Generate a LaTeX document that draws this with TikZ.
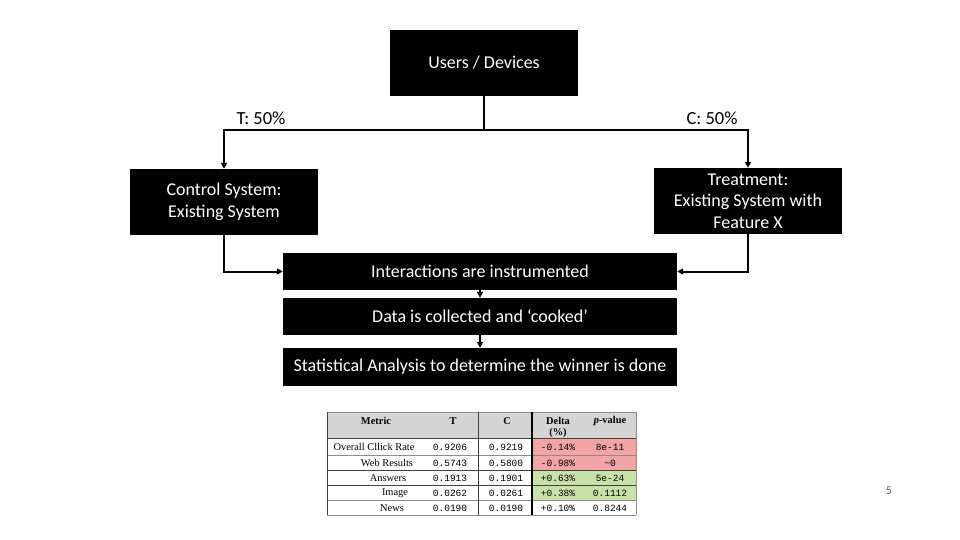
\documentclass[tikz,border=0pt]{standalone}
\usepackage{fontspec}
\setmainfont{Carlito}
\newfontfamily\tabserif{Liberation Serif}
\newfontfamily\tabmono{Liberation Mono}
\usetikzlibrary{arrows.meta}
\definecolor{hdrgray}{HTML}{D4D4D4}
\definecolor{cellred}{HTML}{F3A5A5}
\definecolor{cellgreen}{HTML}{C7E1A6}
\tikzset{
  blk/.style={fill=black, text=white, draw=none, inner sep=2pt, align=center,
    font=\fontsize{18}{22}\selectfont},
  conn/.style={line width=2pt, -{Triangle[length=6pt,width=6pt]}},
  plain/.style={line width=2pt},
  lbl/.style={font=\fontsize{18.5}{22}\selectfont},
  tlab/.style={font=\tabserif\fontsize{10.4}{11}\selectfont, inner sep=0pt},
  thdr/.style={font=\tabserif\bfseries\fontsize{10.4}{11}\selectfont, inner sep=0pt},
  tnum/.style={font=\tabmono\fontsize{9.5}{11}\selectfont, inner sep=0pt},
  tline/.style={line width=0.8pt, draw=black!75},
  tthin/.style={line width=0.4pt, draw=black!45},
}
\begin{document}
\begin{tikzpicture}[x=1pt,y=-1pt]
\useasboundingbox[fill=white] (0,0) rectangle (960,540);

% boxes
\node[blk, minimum width=188pt, minimum height=66pt] (users) at (484,63) {Users / Devices};
\node[blk, minimum width=188pt, minimum height=66pt] (control) at (224,202) {Control System:\\Existing System};
\node[blk, minimum width=188pt, minimum height=66pt, font=\fontsize{18}{21.5}\selectfont] (treat) at (748,201) {Treatment:\\Existing System with\\Feature X};
\node[blk, minimum width=394pt, minimum height=37pt] (inter) at (480,271.5) {Interactions are instrumented};
\node[blk, minimum width=394pt, minimum height=37pt] (data) at (480,316.5) {Data is collected and ‘cooked’};
\node[blk, minimum width=394pt, minimum height=38pt] (stat) at (480,367) {Statistical Analysis to determine the winner is done};

% labels
\node[lbl] (tlbl) at (261,118) {T: 50\%};
\node[lbl] (clbl) at (712,118) {C: 50\%};

% connectors
\coordinate (split) at (484,130);
\coordinate (lt) at (224,130);
\coordinate (rt) at (748,130);
\draw[plain] (users.south) -- (split);
\draw[conn] (split) -- (lt) -- (control.north);
\draw[conn] (split) -- (rt) -- (treat.north);
\draw[conn] (control.south) |- (inter.west);
\draw[conn] (treat.south) |- (inter.east);
\draw[conn] (inter.south) -- (data.north);
\draw[conn] (data.south) -- (stat.north);

% table
\fill[hdrgray] (327,412) rectangle (636,438);
\fill[cellred] (532,438) rectangle (636,470);
\fill[cellgreen] (532,470) rectangle (636,500);
\draw[tthin] (327,412) -- (636,412);
\draw[tline] (327,438) -- (636,438);
\draw[tthin] (327,455) -- (636,455);
\draw[tline] (327,470) -- (636,470);
\draw[tline] (327,485) -- (636,485);
\draw[tthin] (327,500) -- (636,500);
\draw[tthin] (327,515) -- (636,515);
\draw[tline] (327,412) -- (327,515);
\draw[tline] (478,412) -- (478,515);
\draw[line width=1.2pt] (532,412) -- (532,515);
\draw[tthin] (636,412) -- (636,515);

\node[thdr] (hm) at (376,421) {Metric};
\node[thdr] (ht) at (453,421) {T};
\node[thdr] (hc) at (507,421) {C};
\node[thdr, align=center] (hd) at (558,427) {Delta\\(\%)};
\node[thdr] (hp) at (610,421) {\textit{p}-value};

\node[tlab] (r1) at (374,447) {Overall Cllick Rate};
\node[tnum] (r1t) at (450,447) {0.9206};
\node[tnum] (r1c) at (506,447) {0.9219};
\node[tnum] (r1d) at (558,447) {-0.14\%};
\node[tnum] (r1p) at (610,447) {8e-11};

\node[tlab] (r2) at (387,463) {Web Results};
\node[tnum] (r2t) at (450,463) {0.5743};
\node[tnum] (r2c) at (506,463) {0.5800};
\node[tnum] (r2d) at (558,463) {-0.98\%};
\node[tnum] (r2p) at (610,463) {\textasciitilde 0};

\node[tlab] (r3) at (388,478) {Answers};
\node[tnum] (r3t) at (450,478) {0.1913};
\node[tnum] (r3c) at (506,478) {0.1901};
\node[tnum] (r3d) at (558,478) {+0.63\%};
\node[tnum] (r3p) at (610,478) {5e-24};

\node[tlab] (r4) at (395,493) {Image};
\node[tnum] (r4t) at (450,493) {0.0262};
\node[tnum] (r4c) at (506,493) {0.0261};
\node[tnum] (r4d) at (558,493) {+0.38\%};
\node[tnum] (r4p) at (610,493) {0.1112};

\node[tlab] (r5) at (392,508) {News};
\node[tnum] (r5t) at (450,508) {0.0190};
\node[tnum] (r5c) at (506,508) {0.0190};
\node[tnum] (r5d) at (558,508) {+0.10\%};
\node[tnum] (r5p) at (610,508) {0.8244};

% slide number
\node[font=\fontsize{12}{14}\selectfont, text=black!60] (pg) at (889,491) {5};
\end{tikzpicture}
\end{document}
